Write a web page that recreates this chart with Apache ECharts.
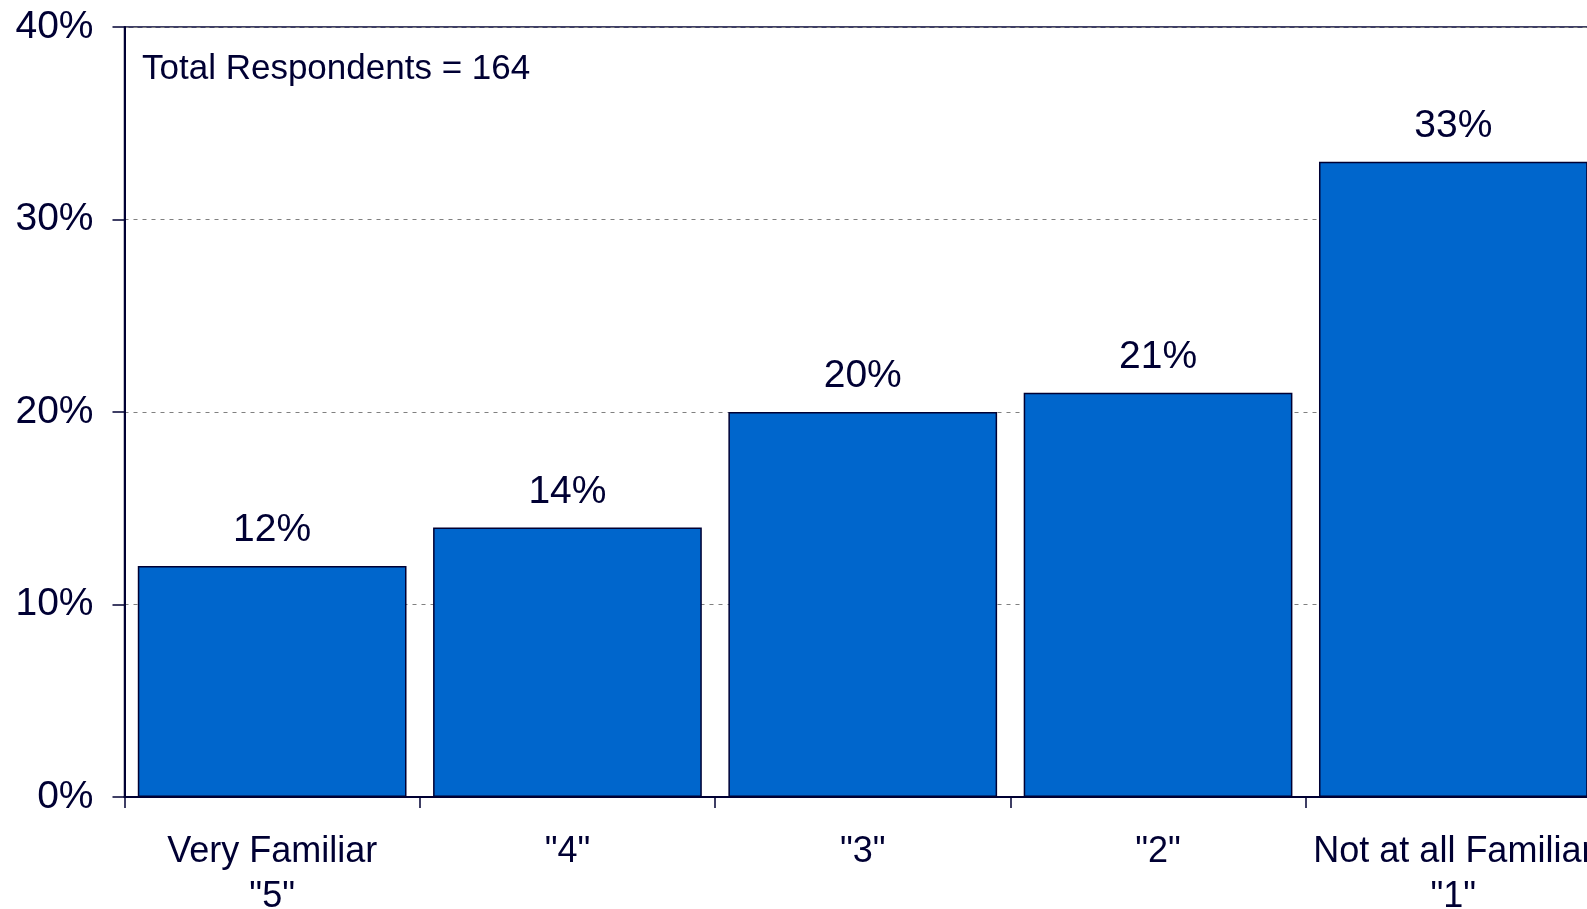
<!DOCTYPE html>
<html>
<head>
<meta charset="utf-8">
<script src="https://cdn.jsdelivr.net/npm/echarts@6/dist/echarts.min.js"></script>
<style>
  html, body { margin: 0; padding: 0; background: #ffffff; }
  #chart { width: 1587px; height: 909px; }
</style>
</head>
<body>
<div id="chart"></div>
<script>
// Familiarity scale, from most to least familiar
const categories = ['Very Familiar\n"5"', '"4"', '"3"', '"2"', 'Not at all Familiar\n"1"'];
// Share of respondents per rating (%)
const shares = [12, 14, 20, 21, 33];
// Value axis ticks (%)
const yTicks = [0, 10, 20, 30, 40];
const respondentNote = 'Total Respondents = 164';

const navy = '#000033';
const font = 'Arial, "Liberation Sans", sans-serif';

const chart = echarts.init(document.getElementById('chart'), null, { renderer: 'canvas' });

chart.setOption({
  backgroundColor: '#ffffff',
  animation: false,
  grid: {
    left: 124.5,
    top: 27,
    bottom: 112,
    width: 1476.5,
    containLabel: false,
    outerBoundsMode: 'none',
    show: true,
    borderColor: navy,
    borderWidth: 1.5,
    backgroundColor: 'transparent'
  },
  graphic: [{
    type: 'text',
    x: 142,
    y: 69,
    style: {
      text: respondentNote,
      fill: navy,
      font: '35px ' + font,
      verticalAlign: 'middle',
      align: 'left'
    }
  }],
  xAxis: {
    type: 'category',
    data: categories,
    boundaryGap: true,
    axisLine: { show: true, lineStyle: { color: navy, width: 2 } },
    axisTick: { show: true, alignWithLabel: false, length: 11, lineStyle: { color: navy, width: 1.5 } },
    axisLabel: {
      color: navy,
      fontFamily: font,
      fontSize: 36,
      lineHeight: 45,
      margin: 33,
      interval: 0
    },
    splitLine: { show: false }
  },
  yAxis: {
    type: 'value',
    min: yTicks[0],
    max: yTicks[yTicks.length - 1],
    interval: yTicks[1] - yTicks[0],
    axisLine: { show: true, lineStyle: { color: navy, width: 2 } },
    axisTick: { show: true, length: 12, lineStyle: { color: navy, width: 1.5 } },
    axisLabel: {
      color: navy,
      fontFamily: font,
      fontSize: 39,
      margin: 31,
      padding: [4, 0, 0, 0],
      formatter: '{value}%'
    },
    splitLine: {
      show: true,
      lineStyle: { color: '#808080', type: [4, 5], width: 1.2 }
    }
  },
  series: [{
    type: 'bar',
    data: shares,
    barCategoryGap: '9%',
    itemStyle: {
      color: '#0066CC',
      borderColor: navy,
      borderWidth: 1.5
    },
    label: {
      show: true,
      position: 'top',
      distance: 16,
      color: navy,
      fontFamily: font,
      fontSize: 39,
      formatter: '{c}%'
    }
  }]
});
</script>
</body>
</html>
